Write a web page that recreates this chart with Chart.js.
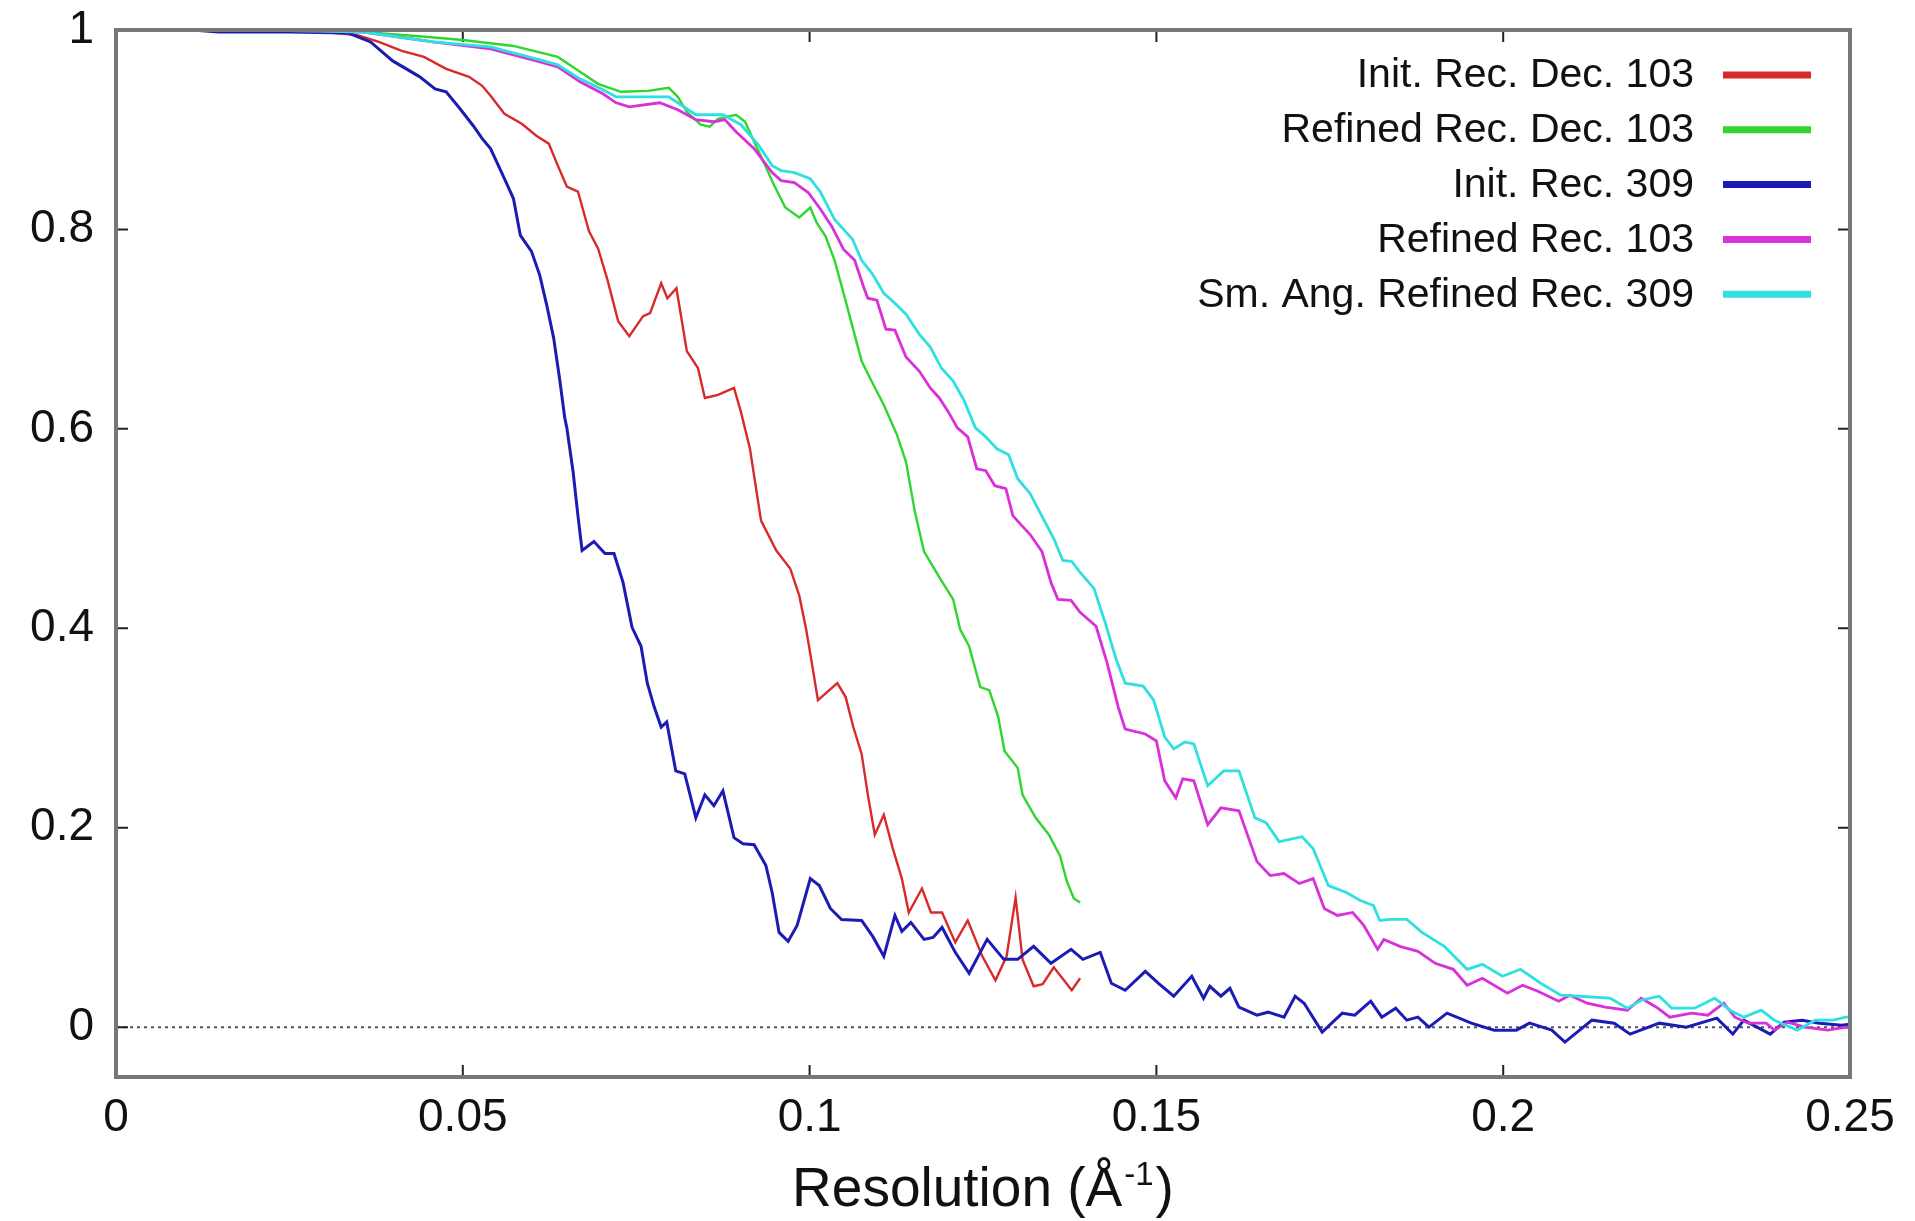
<!DOCTYPE html>
<html lang="en">
<head>
    <meta charset="UTF-8">
    <title>Resolution curves</title>
    <style>
        body {
            margin: 0;
            background: #ffffff;
        }
        canvas {
            display: block;
        }
    </style>
    <script src="https://cdn.jsdelivr.net/npm/chart.js"></script>
</head>
<body>
    <canvas id="fsc-chart" width="1915" height="1221"></canvas>
    <script>
        // Tick values
        const xTicks = [0, 0.05, 0.1, 0.15, 0.2, 0.25];
        const yTicks = [0, 0.2, 0.4, 0.6, 0.8, 1];

        const seriesNames = ['Init. Rec. Dec. 103', 'Refined Rec. Dec. 103', 'Init. Rec. 309', 'Refined Rec. 103', 'Sm. Ang. Refined Rec. 309'];
        const seriesColors = ['#d82a2a', '#2ed62e', '#1c1cb4', '#d930d9', '#2fe0e0'];

        // Init. Rec. Dec. 103 (red)
        const redX = [0.011, 0.02, 0.03, 0.0347, 0.0379, 0.0412, 0.0444, 0.0476, 0.0509, 0.0528, 0.054, 0.056, 0.0585, 0.0606, 0.0624, 0.0637, 0.065, 0.0666, 0.0682, 0.0695, 0.0708, 0.0724, 0.074, 0.076, 0.077, 0.0786, 0.0795, 0.0808, 0.0823, 0.0839, 0.0849, 0.0868, 0.0891, 0.0901, 0.0914, 0.093, 0.0952, 0.0972, 0.0985, 0.0995, 0.1004, 0.1012, 0.104, 0.1052, 0.1063, 0.1075, 0.1084, 0.1094, 0.1107, 0.112, 0.1133, 0.1143, 0.1162, 0.1175, 0.1191, 0.121, 0.1228, 0.1249, 0.1268, 0.1284, 0.1297, 0.1307, 0.1323, 0.1336, 0.1352, 0.1378, 0.139];
        const redY = [1, 0.999, 0.998, 0.995, 0.988, 0.979, 0.973, 0.961, 0.953, 0.944, 0.934, 0.916, 0.906, 0.894, 0.886, 0.864, 0.843, 0.838, 0.798, 0.781, 0.751, 0.708, 0.693, 0.713, 0.716, 0.746, 0.731, 0.741, 0.678, 0.661, 0.631, 0.634, 0.641, 0.617, 0.58, 0.508, 0.478, 0.46, 0.433, 0.399, 0.362, 0.328, 0.345, 0.331, 0.301, 0.274, 0.233, 0.193, 0.213, 0.179, 0.149, 0.115, 0.139, 0.115, 0.115, 0.085, 0.107, 0.071, 0.047, 0.071, 0.13, 0.068, 0.041, 0.043, 0.06, 0.037, 0.049];

        // Refined Rec. Dec. 103 (green)
        const greenX = [0.011, 0.02, 0.03, 0.0357, 0.045, 0.05, 0.0573, 0.0637, 0.0663, 0.0695, 0.0728, 0.0767, 0.0797, 0.081, 0.0823, 0.0843, 0.0856, 0.0868, 0.0894, 0.0907, 0.092, 0.0936, 0.0949, 0.0965, 0.0985, 0.1001, 0.101, 0.1023, 0.1036, 0.1049, 0.1062, 0.1075, 0.1087, 0.1107, 0.1126, 0.1139, 0.1152, 0.1165, 0.1188, 0.1207, 0.1217, 0.123, 0.1246, 0.1259, 0.1272, 0.1281, 0.13, 0.1307, 0.1326, 0.1345, 0.1361, 0.1371, 0.1381, 0.139];
        const greenY = [1, 1, 0.999, 0.998, 0.993, 0.99, 0.984, 0.973, 0.961, 0.946, 0.938, 0.939, 0.942, 0.933, 0.918, 0.905, 0.903, 0.911, 0.915, 0.908, 0.888, 0.864, 0.844, 0.822, 0.812, 0.822, 0.807, 0.793, 0.769, 0.736, 0.702, 0.668, 0.651, 0.624, 0.594, 0.567, 0.516, 0.477, 0.45, 0.429, 0.399, 0.382, 0.341, 0.338, 0.311, 0.277, 0.26, 0.233, 0.21, 0.193, 0.172, 0.146, 0.129, 0.125];

        // Init. Rec. 309 (blue)
        const blueX = [0.011, 0.0148, 0.025, 0.0335, 0.0367, 0.0399, 0.0438, 0.046, 0.0476, 0.0496, 0.0515, 0.0528, 0.054, 0.056, 0.0573, 0.0583, 0.0599, 0.0611, 0.0621, 0.0631, 0.064, 0.0647, 0.065, 0.0659, 0.0666, 0.0672, 0.0689, 0.0705, 0.0718, 0.0731, 0.0744, 0.0757, 0.0766, 0.0776, 0.0786, 0.0794, 0.0807, 0.082, 0.0836, 0.0849, 0.0862, 0.0875, 0.0891, 0.0904, 0.092, 0.0937, 0.0946, 0.0956, 0.0969, 0.0982, 0.1001, 0.1014, 0.103, 0.1046, 0.1075, 0.1091, 0.1107, 0.1123, 0.1133, 0.1146, 0.1165, 0.1178, 0.1191, 0.121, 0.123, 0.1256, 0.128, 0.13, 0.1323, 0.1348, 0.1377, 0.1394, 0.1419, 0.1435, 0.1455, 0.1484, 0.1503, 0.1525, 0.1551, 0.1568, 0.1577, 0.1593, 0.1606, 0.1619, 0.1645, 0.1661, 0.1684, 0.17, 0.1713, 0.1739, 0.1768, 0.1786, 0.1809, 0.1825, 0.1845, 0.1861, 0.1877, 0.1893, 0.1919, 0.1954, 0.1987, 0.2019, 0.2038, 0.207, 0.2089, 0.2128, 0.216, 0.2183, 0.2225, 0.2264, 0.2308, 0.2331, 0.2347, 0.2385, 0.2405, 0.2431, 0.2456, 0.2488, 0.25];
        const blueY = [1, 0.998, 0.998, 0.997, 0.988, 0.969, 0.953, 0.941, 0.938, 0.921, 0.904, 0.891, 0.881, 0.851, 0.831, 0.794, 0.778, 0.754, 0.724, 0.691, 0.648, 0.611, 0.601, 0.557, 0.513, 0.478, 0.487, 0.475, 0.475, 0.446, 0.401, 0.382, 0.345, 0.321, 0.301, 0.306, 0.257, 0.254, 0.21, 0.233, 0.222, 0.237, 0.19, 0.184, 0.183, 0.162, 0.135, 0.095, 0.086, 0.102, 0.149, 0.142, 0.119, 0.108, 0.107, 0.091, 0.071, 0.112, 0.096, 0.105, 0.088, 0.09, 0.1, 0.075, 0.054, 0.088, 0.068, 0.068, 0.081, 0.064, 0.078, 0.068, 0.075, 0.044, 0.037, 0.056, 0.044, 0.031, 0.051, 0.029, 0.041, 0.031, 0.039, 0.02, 0.012, 0.015, 0.01, 0.031, 0.024, -0.005, 0.014, 0.012, 0.026, 0.01, 0.019, 0.007, 0.01, 0, 0.014, 0.004, -0.003, -0.003, 0.004, -0.003, -0.015, 0.007, 0.004, -0.007, 0.004, 0, 0.009, -0.007, 0.007, -0.007, 0.005, 0.007, 0.004, 0.002, 0.003];

        // Refined Rec. 103 (magenta)
        const magentaX = [0.011, 0.02, 0.03, 0.0357, 0.0457, 0.054, 0.0606, 0.0637, 0.0669, 0.0702, 0.0721, 0.074, 0.0784, 0.081, 0.0836, 0.0862, 0.0878, 0.0894, 0.092, 0.0946, 0.0959, 0.0978, 0.0998, 0.1016, 0.1032, 0.1049, 0.1065, 0.1078, 0.1084, 0.1097, 0.111, 0.1123, 0.1139, 0.1158, 0.1174, 0.1187, 0.12, 0.1213, 0.1228, 0.1241, 0.1254, 0.1267, 0.1283, 0.1293, 0.1306, 0.1318, 0.1335, 0.1348, 0.1358, 0.1377, 0.139, 0.1413, 0.1429, 0.1445, 0.1455, 0.1484, 0.15, 0.1512, 0.1528, 0.1538, 0.1554, 0.1574, 0.1593, 0.1619, 0.1645, 0.1664, 0.1684, 0.1706, 0.1726, 0.1742, 0.1761, 0.1783, 0.1799, 0.1819, 0.1828, 0.1851, 0.1877, 0.1902, 0.1928, 0.1948, 0.197, 0.2006, 0.2028, 0.205, 0.208, 0.2096, 0.2121, 0.2147, 0.2179, 0.2199, 0.2221, 0.224, 0.2272, 0.2295, 0.2318, 0.2334, 0.2353, 0.2379, 0.2391, 0.241, 0.2435, 0.2468, 0.2494, 0.25];
        const magentaY = [1, 1, 0.999, 0.998, 0.988, 0.981, 0.969, 0.963, 0.948, 0.936, 0.927, 0.923, 0.927, 0.92, 0.91, 0.908, 0.91, 0.898, 0.881, 0.857, 0.849, 0.847, 0.837, 0.82, 0.803, 0.78, 0.769, 0.742, 0.731, 0.729, 0.7, 0.699, 0.672, 0.658, 0.641, 0.631, 0.617, 0.601, 0.592, 0.56, 0.558, 0.543, 0.54, 0.513, 0.503, 0.494, 0.477, 0.446, 0.429, 0.428, 0.416, 0.402, 0.365, 0.321, 0.299, 0.294, 0.287, 0.247, 0.23, 0.249, 0.247, 0.203, 0.22, 0.217, 0.166, 0.152, 0.154, 0.144, 0.149, 0.119, 0.112, 0.115, 0.102, 0.078, 0.088, 0.081, 0.076, 0.064, 0.058, 0.042, 0.049, 0.034, 0.042, 0.036, 0.026, 0.032, 0.024, 0.02, 0.017, 0.029, 0.02, 0.01, 0.014, 0.012, 0.024, 0.01, 0.004, 0.004, -0.003, 0.005, 0, -0.003, 0, 0];

        // Sm. Ang. Refined Rec. 309 (cyan)
        const cyanX = [0.011, 0.02, 0.03, 0.0357, 0.0457, 0.054, 0.0606, 0.0637, 0.0669, 0.0702, 0.0721, 0.0797, 0.0836, 0.0875, 0.0901, 0.0927, 0.0946, 0.0959, 0.0978, 0.1001, 0.1016, 0.1036, 0.1062, 0.1075, 0.109, 0.1107, 0.1123, 0.1139, 0.1158, 0.1174, 0.119, 0.1207, 0.1223, 0.1239, 0.1254, 0.127, 0.1287, 0.13, 0.1318, 0.1352, 0.1365, 0.1378, 0.139, 0.141, 0.1426, 0.1442, 0.1455, 0.1481, 0.1496, 0.1512, 0.1525, 0.1541, 0.1554, 0.1574, 0.1597, 0.1619, 0.1642, 0.1658, 0.1677, 0.171, 0.1726, 0.1748, 0.1774, 0.1794, 0.1813, 0.1822, 0.1838, 0.1861, 0.1883, 0.1915, 0.1948, 0.197, 0.1999, 0.2025, 0.2054, 0.2083, 0.2109, 0.2154, 0.2179, 0.2199, 0.2225, 0.2243, 0.2276, 0.2305, 0.2327, 0.2347, 0.2372, 0.2391, 0.2424, 0.245, 0.2476, 0.2494, 0.25];
        const cyanY = [1, 1, 0.999, 0.998, 0.988, 0.983, 0.971, 0.965, 0.951, 0.94, 0.933, 0.933, 0.915, 0.915, 0.905, 0.884, 0.864, 0.859, 0.857, 0.851, 0.837, 0.81, 0.79, 0.769, 0.756, 0.736, 0.726, 0.715, 0.695, 0.682, 0.661, 0.648, 0.628, 0.601, 0.592, 0.58, 0.574, 0.55, 0.535, 0.49, 0.468, 0.467, 0.456, 0.44, 0.406, 0.369, 0.345, 0.342, 0.328, 0.291, 0.279, 0.286, 0.284, 0.242, 0.257, 0.257, 0.21, 0.205, 0.186, 0.191, 0.179, 0.142, 0.135, 0.127, 0.122, 0.107, 0.108, 0.108, 0.095, 0.081, 0.058, 0.063, 0.051, 0.058, 0.044, 0.032, 0.031, 0.029, 0.019, 0.027, 0.031, 0.019, 0.019, 0.029, 0.017, 0.01, 0.017, 0.007, -0.003, 0.007, 0.007, 0.01, 0.01];

        const seriesX = [redX, greenX, blueX, magentaX, cyanX];
        const seriesY = [redY, greenY, blueY, magentaY, cyanY];
        const lineWidths = [2.4, 2.4, 3, 2.8, 2.8];

        const fontName = "'Liberation Sans', Arial, Helvetica, sans-serif";
        const tickFont = { family: fontName, size: 46 };

        function fmt(v) {
            return String(Number(v.toFixed(2)));
        }

        // gnuplot-like frame, inner ticks and dotted zero line
        const framePlugin = {
            id: 'frame',
            beforeDatasetsDraw(chart) {
                const ctx = chart.ctx;
                const a = chart.chartArea;
                const xs = chart.scales.x;
                const ys = chart.scales.y;
                ctx.save();

                // zero axis
                ctx.strokeStyle = '#555';
                ctx.lineWidth = 2;
                ctx.setLineDash([3, 4]);
                const y0 = ys.getPixelForValue(0);
                ctx.beginPath();
                ctx.moveTo(a.left, y0);
                ctx.lineTo(a.right, y0);
                ctx.stroke();
                ctx.setLineDash([]);

                // ticks inside the box
                ctx.strokeStyle = '#222';
                ctx.lineWidth = 2;
                ctx.beginPath();
                xTicks.forEach(v => {
                    const px = xs.getPixelForValue(v);
                    ctx.moveTo(px, a.bottom);
                    ctx.lineTo(px, a.bottom - 12);
                    ctx.moveTo(px, a.top);
                    ctx.lineTo(px, a.top + 12);
                });
                yTicks.forEach(v => {
                    const py = ys.getPixelForValue(v);
                    ctx.moveTo(a.left, py);
                    ctx.lineTo(a.left + 12, py);
                    ctx.moveTo(a.right, py);
                    ctx.lineTo(a.right - 12, py);
                });
                ctx.stroke();
                ctx.restore();
            },
            afterDraw(chart) {
                const ctx = chart.ctx;
                const a = chart.chartArea;
                ctx.save();

                // border
                ctx.strokeStyle = '#777';
                ctx.lineWidth = 4;
                ctx.strokeRect(a.left, a.top, a.right - a.left, a.bottom - a.top);

                // legend: text right aligned, line sample after it
                ctx.font = '41px ' + fontName;
                ctx.textAlign = 'right';
                ctx.textBaseline = 'middle';
                seriesNames.forEach((name, i) => {
                    const rowY = 76 + i * 54.8;
                    ctx.fillStyle = '#111';
                    ctx.fillText(name, 1694, rowY);
                    ctx.strokeStyle = seriesColors[i];
                    ctx.lineWidth = 7;
                    ctx.beginPath();
                    ctx.moveTo(1723, rowY - 1);
                    ctx.lineTo(1811, rowY - 1);
                    ctx.stroke();
                });

                // x axis title with superscript
                const main = 'Resolution (\u00c5';
                const sup = '-1';
                const close = ')';
                ctx.textAlign = 'left';
                ctx.textBaseline = 'alphabetic';
                ctx.fillStyle = '#111';
                ctx.font = '55px ' + fontName;
                const w1 = ctx.measureText(main).width;
                const w3 = ctx.measureText(close).width;
                ctx.font = '33px ' + fontName;
                const w2 = ctx.measureText(sup).width;
                let tx = (a.left + a.right) / 2 - (w1 + w2 + w3 + 4) / 2;
                const base = 1206;
                ctx.font = '55px ' + fontName;
                ctx.fillText(main, tx, base);
                tx += w1 + 2;
                ctx.font = '33px ' + fontName;
                ctx.fillText(sup, tx, base - 21);
                tx += w2 + 2;
                ctx.font = '55px ' + fontName;
                ctx.fillText(close, tx, base);
                ctx.restore();
            }
        };

        const datasets = seriesNames.map((name, i) => ({
            label: name,
            data: seriesX[i].map((x, j) => ({ x: x, y: seriesY[i][j] })),
            borderColor: seriesColors[i],
            borderWidth: lineWidths[i],
            pointRadius: 0,
            fill: false,
            tension: 0,
            order: seriesNames.length - i
        }));

        new Chart(document.getElementById('fsc-chart'), {
            type: 'line',
            data: { datasets: datasets },
            options: {
                responsive: false,
                animation: false,
                layout: { padding: { top: 30, right: 65, left: 0, bottom: 0 } },
                plugins: {
                    legend: { display: false },
                    tooltip: { enabled: false }
                },
                scales: {
                    x: {
                        type: 'linear',
                        min: 0,
                        max: 0.25,
                        afterBuildTicks: s => { s.ticks = xTicks.map(v => ({ value: v })); },
                        afterFit: s => { s.height = 144; s.paddingLeft = 0; s.paddingRight = 0; },
                        grid: { display: false, drawTicks: false },
                        border: { display: false },
                        ticks: {
                            font: tickFont,
                            color: '#111',
                            padding: 14,
                            maxRotation: 0,
                            autoSkip: false,
                            callback: v => fmt(v)
                        }
                    },
                    y: {
                        type: 'linear',
                        min: -0.05,
                        max: 1,
                        afterBuildTicks: s => { s.ticks = yTicks.map(v => ({ value: v })); },
                        afterFit: s => { s.width = 116; s.paddingTop = 0; s.paddingBottom = 0; },
                        grid: { display: false, drawTicks: false },
                        border: { display: false },
                        ticks: {
                            font: tickFont,
                            color: '#111',
                            padding: 22,
                            autoSkip: false,
                            callback: v => fmt(v)
                        }
                    }
                }
            },
            plugins: [framePlugin]
        });
    </script>
</body>
</html>
